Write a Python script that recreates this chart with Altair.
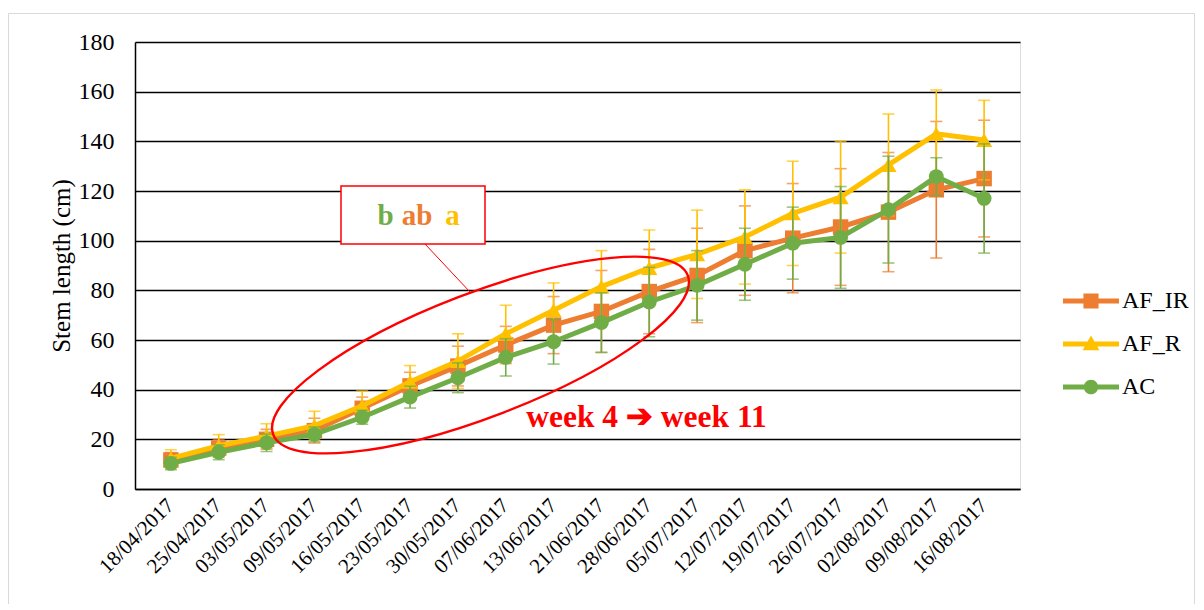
import altair as alt
import pandas as pd

dates = ["18/04/2017", "25/04/2017", "03/05/2017", "09/05/2017", "16/05/2017",
         "23/05/2017", "30/05/2017", "07/06/2017", "13/06/2017", "21/06/2017",
         "28/06/2017", "05/07/2017", "12/07/2017", "19/07/2017", "26/07/2017",
         "02/08/2017", "09/08/2017", "16/08/2017"]

series_names = ["AF_IR", "AF_R", "AC"]

af_ir = [11.7, 16.5, 20.0, 23.5, 32.5, 41.5, 49.5, 58.0, 66.0, 71.5, 79.5, 86.0,
         96.0, 101.0, 105.5, 111.5, 120.5, 125.0]
af_ir_err = [3.0, 3.5, 4.0, 5.0, 4.5, 5.5, 8.0, 7.5, 11.5, 16.5, 17.0, 19.0,
             18.0, 22.0, 23.5, 24.0, 27.5, 23.5]

af_r = [12.3, 17.4, 21.3, 25.5, 33.5, 43.2, 51.5, 62.5, 72.0, 81.5, 89.0, 94.5,
        101.5, 111.0, 117.5, 130.5, 143.0, 140.5]
af_r_err = [3.5, 4.5, 5.0, 5.8, 6.0, 6.5, 11.0, 11.5, 11.0, 14.5, 15.3, 17.8,
            19.0, 21.0, 22.5, 20.5, 17.7, 16.0]

ac = [10.3, 14.8, 18.6, 22.0, 28.9, 37.0, 44.8, 53.0, 59.3, 67.0, 75.3, 82.0,
      90.5, 99.0, 101.3, 112.5, 125.8, 117.0]
ac_err = [2.5, 3.0, 3.5, 3.0, 2.8, 4.4, 6.0, 7.5, 9.0, 12.0, 14.0, 14.0,
          14.5, 14.5, 20.5, 21.5, 7.6, 22.0]

colors = ["#ED7D31", "#FFC000", "#70AD47"]
shapes = ["square", "triangle-up", "circle"]
marker_sizes = [240, 260, 220]
y_ticks = [0, 20, 40, 60, 80, 100, 120, 140, 160, 180]

letters = ["b", "ab", "a"]          # significance letters, coloured AC, AF_IR, AF_R
letter_colors = ["#70AD47", "#ED7D31", "#FFC000"]
period_label = "week 4 \u2794 week 11"

# legend symbols: a line stub with the series marker
legend_paths = [
    "M -1 -0.09 L 1 -0.09 L 1 0.09 L -1 0.09 Z M -0.27 -0.27 L 0.27 -0.27 L 0.27 0.27 L -0.27 0.27 Z",
    "M -1 -0.09 L 1 -0.09 L 1 0.09 L -1 0.09 Z M 0 -0.3 L 0.3 0.22 L -0.3 0.22 Z",
    "M -1 -0.09 L 1 -0.09 L 1 0.09 L -1 0.09 Z M -0.26 0 C -0.26 -0.1436 -0.1436 -0.26 0 -0.26 "
    "C 0.1436 -0.26 0.26 -0.1436 0.26 0 C 0.26 0.1436 0.1436 0.26 0 0.26 "
    "C -0.1436 0.26 -0.26 0.1436 -0.26 0 Z",
]

# ellipse outline path (rx = 1, ry = 0.279) as bezier curves
ellipse_path = ("M -1 0 C -1 -0.1541 -0.5523 -0.279 0 -0.279 "
                "C 0.5523 -0.279 1 -0.1541 1 0 "
                "C 1 0.1541 0.5523 0.279 0 0.279 "
                "C -0.5523 0.279 -1 0.1541 -1 0 Z")

FONT = "Liberation Serif"

rows = []
for name, vals, errs in zip(series_names, [af_ir, af_r, ac], [af_ir_err, af_r_err, ac_err]):
    for d, v, e in zip(dates, vals, errs):
        rows.append({"date": d, "series": name, "value": v, "lo": v - e, "hi": v + e})
df = pd.DataFrame(rows)

x_enc = alt.X("date:N", sort=dates, scale=alt.Scale(domain=dates, padding=0.5),
              axis=alt.Axis(title=None, labelAngle=-45, labelAlign="right",
                            labelBaseline="middle", labelFontSize=21, labelPadding=13,
                            ticks=False, grid=False, labelFont=FONT, labelColor="black",
                            domainColor="black", domainWidth=1.5))
y_enc = alt.Y("value:Q", scale=alt.Scale(domain=[0, 180], nice=False),
              axis=alt.Axis(title="Stem length (cm)", values=y_ticks, ticks=False,
                            labelFontSize=24, labelFont=FONT, labelColor="black",
                            labelPadding=21, titleFont=FONT, titleFontSize=25,
                            titleFontWeight="normal", titleColor="black", titlePadding=4,
                            grid=True, gridColor="black", gridWidth=1.6,
                            domainColor="black", domainWidth=1.5))
y_lo = alt.Y("lo:Q", scale=alt.Scale(domain=[0, 180], nice=False))
y_hi = alt.Y("hi:Q", scale=alt.Scale(domain=[0, 180], nice=False))

base = alt.Chart(df)
one = pd.DataFrame({"k": [0]})

border = alt.Chart(one).mark_rect(fillOpacity=0, stroke="#d9d9d9", strokeWidth=1).encode(
    x=alt.value(-126.5), x2=alt.value(1059.5), y=alt.value(-28.5), y2=alt.value(600))

layers = [border]
for name, col, shp, msz in zip(series_names, colors, shapes, marker_sizes):
    s = base.transform_filter(alt.datum.series == name)
    rule = s.mark_rule(color=col, strokeWidth=1.6).encode(x=x_enc, y=y_lo, y2="hi:Q")
    cap_hi = s.mark_tick(color=col, size=12, thickness=1.6).encode(x=x_enc, y=y_hi)
    cap_lo = s.mark_tick(color=col, size=12, thickness=1.6).encode(x=x_enc, y=y_lo)
    line = s.mark_line(color=col, strokeWidth=5).encode(x=x_enc, y=y_enc)
    pts = s.mark_point(color=col, filled=True, opacity=1, shape=shp, size=msz).encode(
        x=x_enc, y=y_enc)
    layers += [rule, cap_hi, cap_lo, line, pts]

legend_kw = dict(orient="none", legendX=928, legendY=231, title=None, symbolSize=3136,
                 symbolOpacity=1, symbolStrokeWidth=0, labelFont=FONT, labelFontSize=24,
                 labelColor="black", labelOffset=3, rowPadding=3, padding=0)
legend_layer = base.mark_point(filled=True, opacity=0).encode(
    x=x_enc, y=y_enc,
    color=alt.Color("series:N", scale=alt.Scale(domain=series_names, range=colors),
                    sort=series_names, legend=alt.Legend(**legend_kw)),
    shape=alt.Shape("series:N", scale=alt.Scale(domain=series_names, range=legend_paths),
                    sort=series_names, legend=alt.Legend(**legend_kw)),
)
layers.append(legend_layer)

# annotation: ellipse around weeks 4-11, label box and connector
ellipse = alt.Chart(one).mark_point(shape=ellipse_path, filled=False, color="#FF0000",
                                    strokeWidth=2.4, opacity=1, size=197136, angle=339).encode(
    x=alt.value(345.5), y=alt.value(313))
connector = alt.Chart(one).mark_rule(color="#FF0000", strokeWidth=1).encode(
    x=alt.value(290), x2=alt.value(335), y=alt.value(202), y2=alt.value(250))
box = alt.Chart(one).mark_rect(fill="white", stroke="#FF0000", strokeWidth=1.5).encode(
    x=alt.value(206), x2=alt.value(350), y=alt.value(144), y2=alt.value(202))
layers += [ellipse, connector, box]

letter_x = [250.5, 282, 317.5]
for t, c, xx in zip(letters, letter_colors, letter_x):
    layers.append(alt.Chart(one).mark_text(text=t, color=c, font=FONT, fontSize=29,
                                           fontWeight="bold", align="center",
                                           baseline="alphabetic").encode(
        x=alt.value(xx), y=alt.value(183)))
layers.append(alt.Chart(one).mark_text(text=period_label, color="#FF0000", font=FONT,
                                       fontSize=31.5, fontWeight="bold", align="center",
                                       baseline="alphabetic").encode(
    x=alt.value(511.5), y=alt.value(385)))

chart = alt.layer(*layers).properties(
    width=885, height=447,
    padding={"left": 127, "top": 34, "right": 175, "bottom": 115},
    autosize=alt.AutoSizeParams(type="none"),
).configure_view(stroke="black", strokeWidth=1.5).configure(background="white")

chart.save("out.html", embed_options={"renderer": "svg", "actions": False})
